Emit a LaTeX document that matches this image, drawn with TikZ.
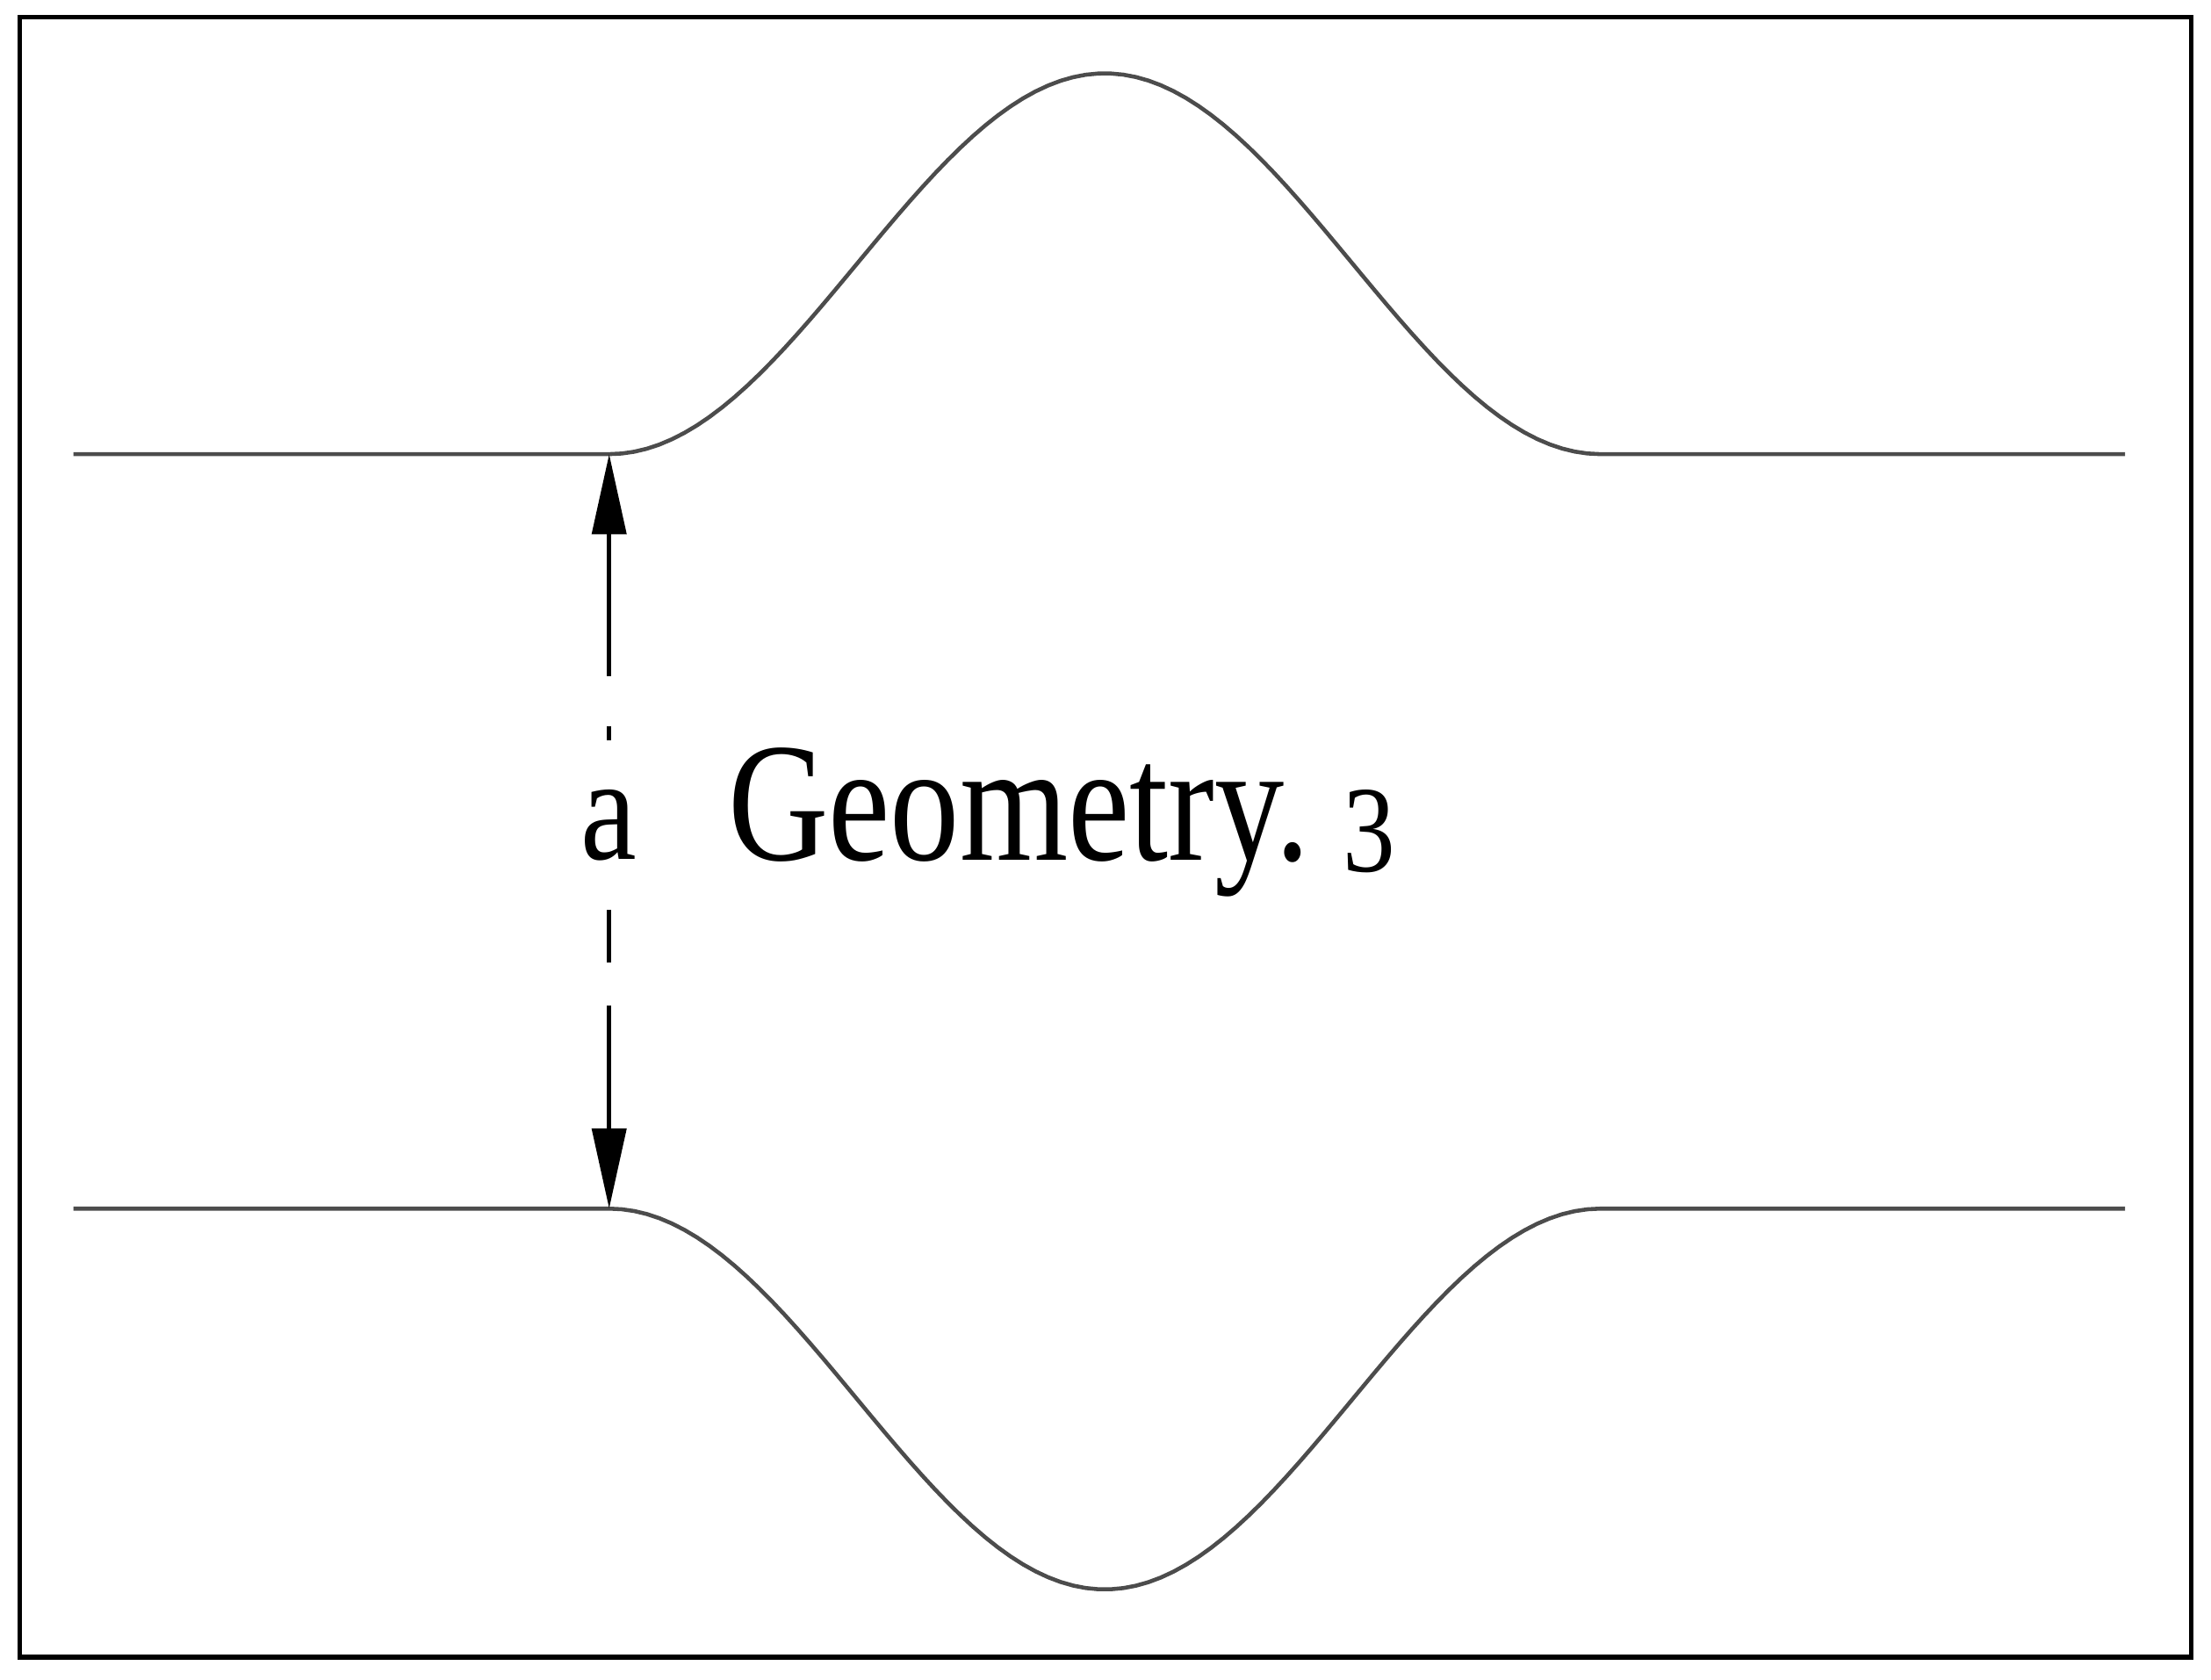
\documentclass[tikz,border=0pt]{standalone}
\usepackage{fontspec}
\setmainfont{Liberation Serif}
\usetikzlibrary{arrows.meta}
\begin{document}
\begin{tikzpicture}[x=0.01606cm,y=-0.01606cm,
  wall/.style={line width=1.3pt,draw=black!70},
  tip/.style={-{Triangle[length=26pt,width=11pt]}}]
\useasboundingbox (0,0) rectangle (1568,1191);
\draw[line width=1.5pt] (14,12) rectangle (1554,1175);
\coordinate (t0) at (52,322); \coordinate (t1) at (432,322);
\coordinate (t2) at (1135,322); \coordinate (t3) at (1507,322);
\coordinate (b0) at (52,857); \coordinate (b1) at (432,857);
\coordinate (b2) at (1135,857); \coordinate (b3) at (1507,857);
\draw[wall] (t0) -- (t1) -- plot[domain=0:1,samples=80] ({432+703*\x},{322-135*(1-cos(360*\x))}) -- (t3);
\draw[wall] (b0) -- (b1) -- plot[domain=0:1,samples=80] ({432+703*\x},{857+135*(1-cos(360*\x))}) -- (b3);
\coordinate (m1) at (432,460); \coordinate (m2) at (432,525);
\coordinate (m3) at (432,645); \coordinate (m4) at (432,750);
\draw[line width=1.5pt,tip] (m1) -- (t1);
\draw[line width=1.5pt,dash pattern=on 9pt off 16pt] (m1) -- (m2);
\draw[line width=1.5pt,dash pattern=on 17pt off 14pt] (m3) -- (m4);
\draw[line width=1.5pt,tip] (m4) -- (b1);
\node[xscale=0.85] (a) at (432,585) {\fontsize{48}{50}\selectfont a};
\node[anchor=base west,xscale=0.82] (g) at (510,610) {\fontsize{55}{58}\selectfont Geometry.};
\node[anchor=base west,inner sep=0pt,xscale=0.85] (n) at (952,618) {\fontsize{40}{42}\selectfont 3};
\end{tikzpicture}
\end{document}
